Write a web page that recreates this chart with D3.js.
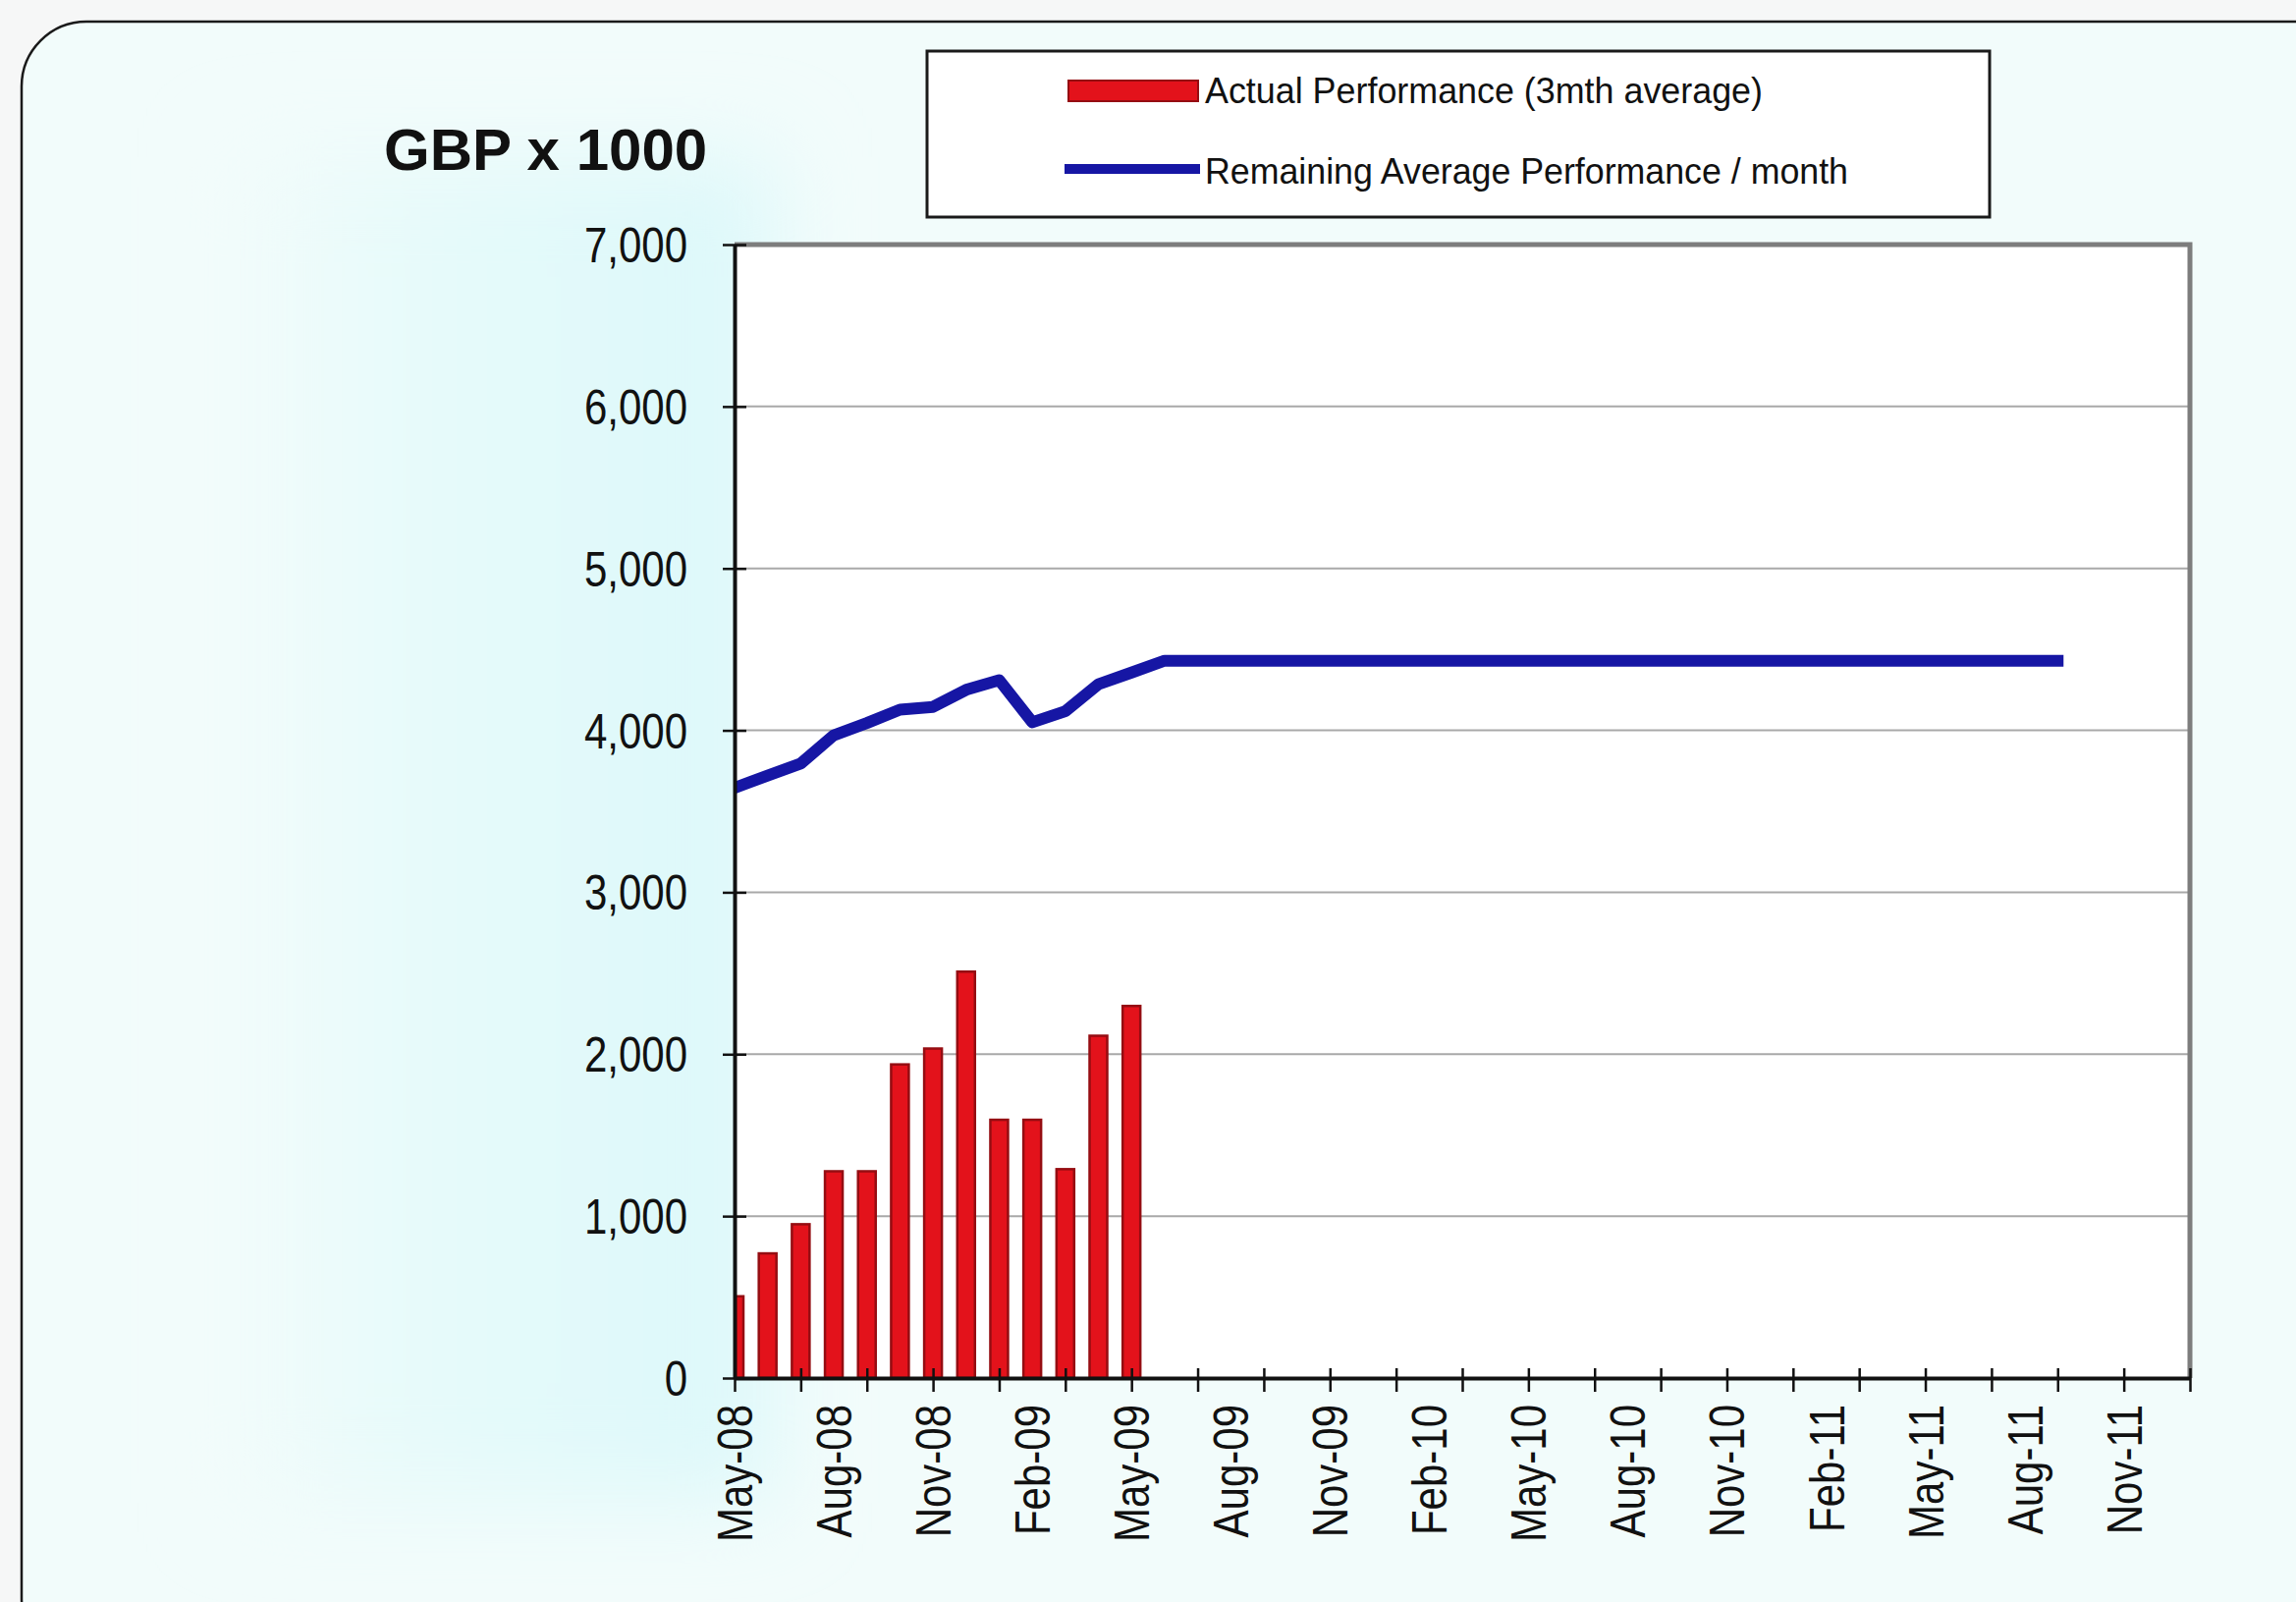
<!DOCTYPE html>
<html>
<head>
<meta charset="utf-8">
<script src="https://cdn.jsdelivr.net/npm/d3@7"></script>
<style>
  html, body { margin: 0; padding: 0; background: #f6f7f7; }
  svg { display: block; }
  text { font-family: "Liberation Sans", Arial, sans-serif; fill: #111; }
</style>
</head>
<body>
<svg id="chart" width="2338" height="1631"></svg>
<script>
// ---------------- data ----------------
const title = "GBP x 1000";
const seriesNames = ["Actual Performance (3mth average)", "Remaining Average Performance / month"];

const barMonths = ["May-08","Jun-08","Jul-08","Aug-08","Sep-08","Oct-08","Nov-08","Dec-08",
                   "Jan-09","Feb-09","Mar-09","Apr-09","May-09"];
const barValues = [505, 770, 950, 1277, 1277, 1937, 2035, 2510, 1595, 1595, 1290, 2114, 2298];

const lineMonths = ["May-08","Jun-08","Jul-08","Aug-08","Sep-08","Oct-08","Nov-08","Dec-08",
                    "Jan-09","Feb-09","Mar-09","Apr-09","May-09","Jun-09","Jul-09","Aug-09",
                    "Sep-09","Oct-09","Nov-09","Dec-09","Jan-10","Feb-10","Mar-10","Apr-10",
                    "May-10","Jun-10","Jul-10","Aug-10","Sep-10","Oct-10","Nov-10","Dec-10",
                    "Jan-11","Feb-11","Mar-11","Apr-11","May-11","Jun-11","Jul-11","Aug-11","Sep-11"];
const lineValues = [3645, 3720, 3795, 3970, 4045, 4128, 4145, 4250,
                    4310, 4050, 4118, 4285, 4357, 4430, 4430, 4430,
                    4430, 4430, 4430, 4430, 4430, 4430, 4430, 4430,
                    4430, 4430, 4430, 4430, 4430, 4430, 4430, 4430,
                    4430, 4430, 4430, 4430, 4430, 4430, 4430, 4430, 4430];

const axisStart = "May-08";
const axisEnd = "Jan-12";
const xTickMonths = ["May-08","Jul-08","Sep-08","Nov-08","Jan-09","Mar-09","May-09","Jul-09",
                     "Sep-09","Nov-09","Jan-10","Mar-10","May-10","Jul-10","Sep-10","Nov-10",
                     "Jan-11","Mar-11","May-11","Jul-11","Sep-11","Nov-11","Jan-12"];
const xLabelMonths = ["May-08","Aug-08","Nov-08","Feb-09","May-09","Aug-09","Nov-09","Feb-10",
                      "May-10","Aug-10","Nov-10","Feb-11","May-11","Aug-11","Nov-11"];
const yTicks = [0, 1000, 2000, 3000, 4000, 5000, 6000, 7000];

// ---------------- drawing ----------------
const svg = d3.select("#chart");
const W = 2338, H = 1631;
const plot = { left: 748, right: 2230, top: 249, bottom: 1403 };

const parse = d3.timeParse("%b-%y");
const start = parse(axisStart);
const mi = s => d3.timeMonth.count(start, parse(s));

const x = d3.scaleLinear().domain([0, mi(axisEnd)]).range([plot.left, plot.right]);
const y = d3.scaleLinear().domain([0, 7000]).range([plot.bottom, plot.top]);

const defs = svg.append("defs");
const bgGrad = defs.append("linearGradient").attr("id", "bgGrad")
  .attr("x1", "0").attr("x2", "1").attr("y1", "0").attr("y2", "0");
bgGrad.append("stop").attr("offset", "0").attr("stop-color", "#f2fcfb");
bgGrad.append("stop").attr("offset", "0.35").attr("stop-color", "#e6fafa");
bgGrad.append("stop").attr("offset", "1").attr("stop-color", "#dcf8fa");
defs.append("filter").attr("id", "soft").attr("x", "-50%").attr("y", "-50%")
  .attr("width", "200%").attr("height", "200%")
  .append("feGaussianBlur").attr("stdDeviation", 45);
defs.append("clipPath").attr("id", "plotClip").append("rect")
  .attr("x", plot.left).attr("y", plot.top)
  .attr("width", plot.right - plot.left).attr("height", plot.bottom - plot.top);

// chart area with rounded corners
svg.append("rect").attr("x", 22).attr("y", 22).attr("width", W + 40).attr("height", H + 40)
  .attr("rx", 66).attr("ry", 66).attr("fill", "#f2fcfb").attr("stroke", "#1a1a1a").attr("stroke-width", 2.5);
// soft cyan band left of plot
svg.append("rect").attr("x", 240).attr("y", 160).attr("width", plot.left - 200).attr("height", 1370)
  .attr("fill", "url(#bgGrad)").attr("filter", "url(#soft)");

// plot area
svg.append("rect").attr("x", plot.left).attr("y", plot.top)
  .attr("width", plot.right - plot.left).attr("height", plot.bottom - plot.top)
  .attr("fill", "#ffffff");

// gridlines
svg.append("g").selectAll("line").data(yTicks.filter(d => d > 0 && d < 7000)).join("line")
  .attr("x1", plot.left).attr("x2", plot.right)
  .attr("y1", d => y(d)).attr("y2", d => y(d))
  .attr("stroke", "#a9a9a9").attr("stroke-width", 2);

// top & right border
svg.append("path")
  .attr("d", `M${plot.left},${plot.top}H${plot.right}V${plot.bottom}`)
  .attr("fill", "none").attr("stroke", "#7d7d7d").attr("stroke-width", 5);

// bars
const bw = 18;
svg.append("g").attr("clip-path", "url(#plotClip)")
  .selectAll("rect").data(barMonths.map((m, i) => ({ m, v: barValues[i] }))).join("rect")
  .attr("x", d => x(mi(d.m)) - bw / 2).attr("width", bw)
  .attr("y", d => y(d.v)).attr("height", d => y(0) - y(d.v))
  .attr("fill", "#e3121b").attr("stroke", "#950d12").attr("stroke-width", 2.5);

// line
const line = d3.line().x(d => x(mi(d.m))).y(d => y(d.v));
svg.append("g").attr("clip-path", "url(#plotClip)").append("path")
  .datum(lineMonths.map((m, i) => ({ m, v: lineValues[i] })))
  .attr("d", line).attr("fill", "none")
  .attr("stroke", "#1616a4").attr("stroke-width", 12)
  .attr("stroke-linejoin", "round").attr("stroke-linecap", "square");

// y axis
const yAxis = svg.append("g").attr("transform", `translate(${plot.left},0)`)
  .call(d3.axisLeft(y).tickValues(yTicks).tickFormat(d3.format(",")).tickSizeOuter(0));
yAxis.select(".domain").attr("stroke", "#111").attr("stroke-width", 4);
yAxis.selectAll(".tick line").attr("x1", -12).attr("x2", 12).attr("stroke", "#111").attr("stroke-width", 2.5);
yAxis.selectAll(".tick text")
  .attr("x", 0).attr("dy", "0.35em")
  .attr("transform", `translate(${700 - plot.left},0) scale(0.84,1)`)
  .attr("text-anchor", "end")
  .style("font-size", "50px").style("font-family", "'Liberation Sans', Arial, sans-serif")
  .attr("fill", "#222");

// x axis: tick marks
const xAxis = svg.append("g").attr("transform", `translate(0,${plot.bottom})`)
  .call(d3.axisBottom(x).tickValues(xTickMonths.map(mi)).tickFormat("").tickSizeOuter(0));
xAxis.select(".domain").attr("stroke", "#111").attr("stroke-width", 4);
xAxis.selectAll(".tick line").attr("y1", -10).attr("y2", 14).attr("stroke", "#111").attr("stroke-width", 2.5);

// x axis: labels
const xLab = svg.append("g").attr("transform", `translate(0,${plot.bottom})`)
  .call(d3.axisBottom(x).tickValues(xLabelMonths.map(mi))
    .tickFormat((d, i) => xLabelMonths[i]).tickSize(0));
xLab.select(".domain").remove();
xLab.selectAll(".tick text")
  .attr("x", 0).attr("y", 0).attr("dy", "0.35em")
  .attr("transform", "translate(0,27) rotate(-90) scale(0.84,1)")
  .attr("text-anchor", "end")
  .style("font-size", "50px").style("font-family", "'Liberation Sans', Arial, sans-serif")
  .attr("fill", "#222");

// title
svg.append("text").attr("x", 391).attr("y", 173)
  .style("font-size", "60px").style("font-weight", "bold").text(title);

// legend
const lg = svg.append("g");
lg.append("rect").attr("x", 944).attr("y", 52).attr("width", 1082).attr("height", 169)
  .attr("fill", "#ffffff").attr("stroke", "#1a1a1a").attr("stroke-width", 3);
lg.append("rect").attr("x", 1088).attr("y", 82).attr("width", 132).attr("height", 21)
  .attr("fill", "#e3121b").attr("stroke", "#950d12").attr("stroke-width", 2);
lg.append("line").attr("x1", 1084).attr("x2", 1222).attr("y1", 172).attr("y2", 172)
  .attr("stroke", "#1616a4").attr("stroke-width", 10);
const legendWidths = [568, 655];
const legendY = [92, 174];
seriesNames.forEach((name, i) => {
  lg.append("text").attr("x", 1227).attr("y", legendY[i]).attr("dy", "0.35em")
    .style("font-size", "36px")
    .attr("textLength", legendWidths[i]).attr("lengthAdjust", "spacingAndGlyphs")
    .text(name);
});
</script>
</body>
</html>
